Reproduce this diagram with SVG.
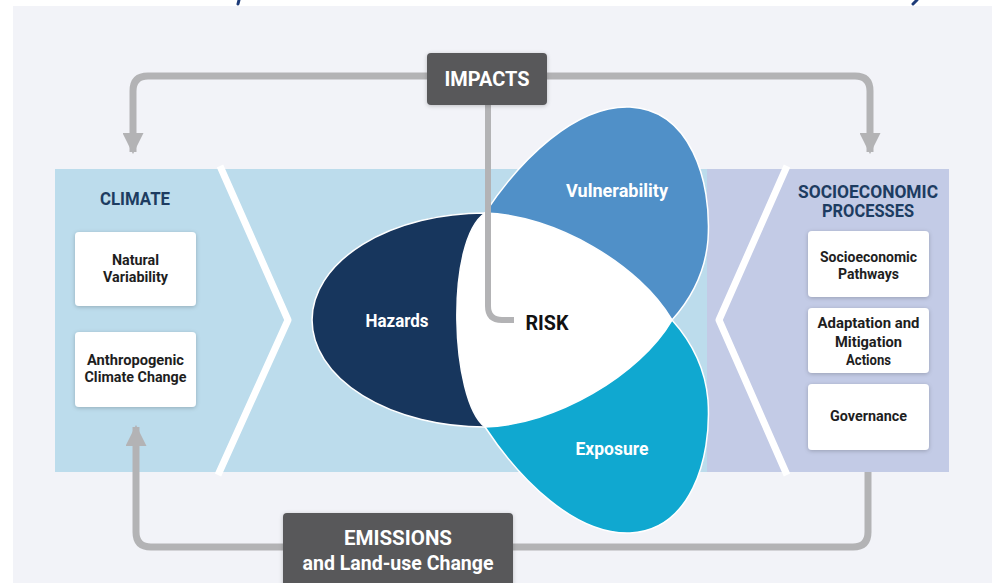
<svg xmlns="http://www.w3.org/2000/svg" width="992" height="583" viewBox="0 0 992 583">
  <style>
    .lbl { font-family: Roboto, "Liberation Sans", sans-serif; font-weight: 700; text-anchor: middle; }
    .head { fill: #1d3c61; font-size: 18px; }
    .box-text { fill: #1e1e1e; font-size: 15px; }
    .petal-text { fill: #ffffff; font-size: 18px; }
    .dark-text { fill: #ffffff; }
    .card { fill: #ffffff; filter: url(#shadow); }
    .dark-box { fill: #58585a; filter: url(#shadow); }
    .conn { fill: none; stroke: #b3b3b5; stroke-width: 7; stroke-linejoin: round; }
    .chevron { fill: none; stroke: #ffffff; stroke-width: 7; stroke-linejoin: round; }
    .petal-edge { stroke: #ffffff; stroke-width: 1.5; }
  </style>
  <defs>
    <filter id="shadow" x="-20%" y="-20%" width="140%" height="140%">
      <feDropShadow dx="0" dy="1" stdDeviation="2" flood-color="#000000" flood-opacity="0.22"/>
    </filter>
    <marker id="arrow" viewBox="0 0 10 10" refX="9" refY="5" markerWidth="3" markerHeight="3" orient="auto" markerUnits="strokeWidth">
      <path d="M0,0 L10,5 L0,10 Z" fill="#b3b3b5"/>
    </marker>
  </defs>

  <!-- page -->
  <rect x="0" y="0" width="992" height="583" fill="#ffffff"/>
  <rect x="13" y="6" width="979" height="577" fill="#f2f3f8"/>
  <g id="title-remnant" stroke="#1c3a78" stroke-width="3" stroke-linecap="round">
    <line x1="239" y1="0" x2="238" y2="4"/>
    <line x1="917" y1="0" x2="913" y2="4"/>
  </g>

  <!-- bands -->
  <g id="climate">
    <rect x="55" y="169" width="652" height="303" fill="#bcdcec"/>
    <polyline class="chevron" points="220,166 288,320 218,475"/>
    <text class="lbl head" x="135" y="205" textLength="70" lengthAdjust="spacingAndGlyphs">CLIMATE</text>
  </g>
  <g id="socioeconomic">
    <rect x="707" y="169" width="242" height="303" fill="#c3cbe6"/>
    <polyline class="chevron" points="787,166 719,320 787,475"/>
    <text class="lbl head" x="868" y="198" textLength="140" lengthAdjust="spacingAndGlyphs">SOCIOECONOMIC</text>
    <text class="lbl head" x="868" y="217" textLength="92" lengthAdjust="spacingAndGlyphs">PROCESSES</text>
  </g>

  <!-- connectors -->
  <g id="connectors">
    <path class="conn" d="M487,76 L148,76 Q133,76 133,91 L133,152" marker-end="url(#arrow)"/>
    <path class="conn" d="M487,76 L855,76 Q870,76 870,91 L870,152" marker-end="url(#arrow)"/>
    <path class="conn" d="M868,472 L868,532 Q868,547 853,547 L151,547 Q136,547 136,532 L136,427" marker-end="url(#arrow)"/>
  </g>

  <!-- risk figure -->
  <g id="hazards">
    <path class="petal-edge" fill="#17365d" d="M485,213 A173,107 0 0 0 485,427 L485,213 Z"/>
  </g>
  <g id="vulnerability">
    <path class="petal-edge" fill="#5090c8" d="M485,213 C520,160 575,105 630,107 C690,110 712,180 708,240 C705,275 690,300 672,320 L485,320 Z"/>
  </g>
  <g id="exposure">
    <path class="petal-edge" fill="#10a8d0" d="M485,427 C520,480 575,535 630,533 C690,530 712,460 708,400 C705,365 690,340 672,320 L485,320 Z"/>
  </g>
  <g id="risk">
    <path class="petal-edge" fill="#ffffff" d="M485,213 C555,215 640,265 672,320 C640,375 555,425 485,427 C450,400 445,240 485,213 Z"/>
  </g>
  <g id="impacts-link">
    <path fill="none" stroke="#b3b3b5" stroke-width="6" d="M488,100 L488,306 Q488,320 502,320 L514,320"/>
  </g>
  <g id="petal-labels">
    <text class="lbl petal-text" x="397" y="327" textLength="63" lengthAdjust="spacingAndGlyphs">Hazards</text>
    <text class="lbl petal-text" x="617" y="197" textLength="102" lengthAdjust="spacingAndGlyphs">Vulnerability</text>
    <text class="lbl petal-text" x="612" y="455" textLength="73" lengthAdjust="spacingAndGlyphs">Exposure</text>
    <text class="lbl" x="547" y="330" font-size="21" fill="#111111" textLength="43" lengthAdjust="spacingAndGlyphs">RISK</text>
  </g>

  <!-- climate cards -->
  <g id="natural-variability">
    <rect class="card" x="75" y="232" width="121" height="74" rx="4"/>
    <text class="lbl box-text" x="135.5" y="265" textLength="47" lengthAdjust="spacingAndGlyphs">Natural</text>
    <text class="lbl box-text" x="135.5" y="282" textLength="65" lengthAdjust="spacingAndGlyphs">Variability</text>
  </g>
  <g id="anthropogenic-climate-change">
    <rect class="card" x="75" y="332" width="121" height="75" rx="4"/>
    <text class="lbl box-text" x="135.5" y="365" textLength="97" lengthAdjust="spacingAndGlyphs">Anthropogenic</text>
    <text class="lbl box-text" x="135.5" y="382" textLength="102" lengthAdjust="spacingAndGlyphs">Climate Change</text>
  </g>

  <!-- socioeconomic cards -->
  <g id="socioeconomic-pathways">
    <rect class="card" x="808" y="231" width="121" height="66" rx="4"/>
    <text class="lbl box-text" x="868.5" y="262" textLength="97" lengthAdjust="spacingAndGlyphs">Socioeconomic</text>
    <text class="lbl box-text" x="868.5" y="279" textLength="61" lengthAdjust="spacingAndGlyphs">Pathways</text>
  </g>
  <g id="adaptation-mitigation">
    <rect class="card" x="808" y="308" width="121" height="65" rx="4"/>
    <text class="lbl box-text" x="868.5" y="328" textLength="102" lengthAdjust="spacingAndGlyphs">Adaptation and</text>
    <text class="lbl box-text" x="868.5" y="347" textLength="67" lengthAdjust="spacingAndGlyphs">Mitigation</text>
    <text class="lbl box-text" x="868.5" y="365" textLength="45" lengthAdjust="spacingAndGlyphs">Actions</text>
  </g>
  <g id="governance">
    <rect class="card" x="808" y="384" width="121" height="66" rx="4"/>
    <text class="lbl box-text" x="868.5" y="421" textLength="77" lengthAdjust="spacingAndGlyphs">Governance</text>
  </g>

  <!-- driver boxes -->
  <g id="impacts">
    <rect class="dark-box" x="427" y="53" width="120" height="52" rx="4"/>
    <text class="lbl dark-text" x="487" y="86" font-size="21" textLength="85" lengthAdjust="spacingAndGlyphs">IMPACTS</text>
  </g>
  <g id="emissions">
    <rect class="dark-box" x="283" y="513" width="230" height="80" rx="4"/>
    <text class="lbl dark-text" x="398" y="545" font-size="21" textLength="108" lengthAdjust="spacingAndGlyphs">EMISSIONS</text>
    <text class="lbl dark-text" x="398" y="570" font-size="20" font-weight="500" textLength="191" lengthAdjust="spacingAndGlyphs">and Land-use Change</text>
  </g>
</svg>
